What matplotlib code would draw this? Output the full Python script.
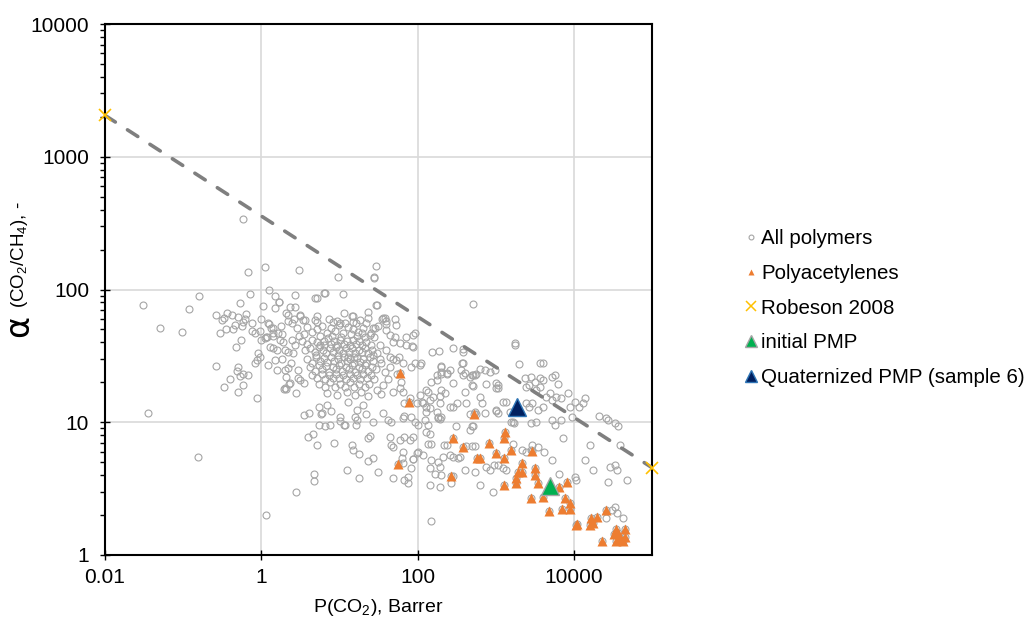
import matplotlib
matplotlib.use('Agg')
import matplotlib.pyplot as plt
from matplotlib.lines import Line2D
from matplotlib.ticker import FixedLocator, NullLocator, LogLocator, NullFormatter

plt.rcParams['font.family'] = ['Liberation Sans', 'DejaVu Sans']
plt.rcParams['mathtext.fontset'] = 'custom'
plt.rcParams['mathtext.rm'] = 'Liberation Sans'
plt.rcParams['mathtext.it'] = 'Liberation Sans:italic'

# ---------------- data (P(CO2) in Barrer, alpha(CO2/CH4)) ----------------
grey_left = [
    (0.031, 76), (0.05, 51), (0.035, 11.8), (0.096, 48), (0.12, 71), (0.16, 89), (0.156, 5.5), (0.26, 64), (0.58, 339), (0.67, 135),
    (1.1, 149), (3.05, 140), (0.72, 93), (0.54, 79), (1.04, 75), (1.26, 99), (1.52, 90), (2.67, 91), (1.68, 80), (1.5, 73),
    (2.7, 74), (2.3, 74), (0.36, 66), (0.42, 64), (0.50, 62), (0.63, 65), (0.31, 59), (0.33, 61), (0.46, 54), (0.58, 57),
    (0.61, 60), (0.77, 56), (0.98, 60), (0.30, 47), (0.35, 50), (0.43, 50), (0.56, 53), (0.84, 47), (0.75, 49), (0.97, 49),
    (0.55, 42), (0.47, 37), (1.0, 42), (1.15, 44), (1.41, 51), (1.24, 55), (1.82, 46), (1.42, 45), (1.29, 37), (0.91, 33),
    (0.87, 29.5), (0.26, 26.6), (0.51, 26), (0.49, 24.5), (0.58, 23), (0.68, 22.7), (0.40, 21), (0.53, 22.4), (0.58, 19), (0.33, 18.5),
    (0.51, 17), (0.87, 15.2), (0.83, 27.9), (1.22, 27), (2.8, 3.0), (1.15, 2.0), (1.57, 24.8), (1.95, 17.7), (2.1, 17.7), (2.25, 19.5),
    (2.8, 16.6), (2.96, 21.5), (1.67, 80), (2.07, 67), (2.2, 64), (3.1, 64), (3.4, 59), (2.2, 58), (2.5, 56), (2.6, 60),
    (0.96, 31), (1.17, 44), (1.11, 43), (1.35, 51), (1.42, 47), (1.23, 56), (1.65, 47), (1.73, 41.6), (1.9, 40), (1.42, 36),
    (1.57, 35), (2.0, 35), (2.2, 34), (2.56, 33), (1.49, 29.5), (2.0, 24.7), (2.2, 25.5), (2.1, 22), (2.96, 24.7), (3.1, 20.8),
    (3.5, 19.6), (2.3, 19.6), (2.0, 18), (1.85, 30), (2.4, 28), (2.7, 38), (3.0, 45), (2.45, 42), (1.8, 53), (2.9, 51),
]

grey_core = [
    (4.8, 86), (5.1, 87), (6.3, 94), (6.6, 94), (11, 93), (27.5, 124), (9.7, 124), (29.6, 150), (27.3, 123), (11.6, 66),
    (15, 63), (23.5, 68), (29, 76), (23, 61), (22, 56), (7.4, 60), (8.2, 57), (9.2, 58), (10.1, 56), (11.7, 56),
    (15, 57), (16.5, 56), (18.3, 59), (15, 50), (17.4, 48), (20, 51), (27, 51), (31, 53), (4.8, 59), (5.1, 63),
    (5.1, 57), (30, 76), (14.3, 63), (3.1, 63), (3.6, 59), (34.6, 60), (38, 61), (40, 55), (52, 60), (53, 54),
    (28.4, 51), (40, 49.5), (92, 46.8), (88, 45.5), (72, 44), (52, 44), (44, 45.5), (24.5, 45.5), (88, 37), (84, 37.3),
    (72, 38), (59, 39.3), (48, 40), (44, 31), (53, 29.5), (65, 27.8), (27, 32), (33, 30), (36, 61), (40, 58),
    (3.9, 52), (4.4, 48), (5.2, 50), (6.0, 53), (6.9, 47), (7.7, 51), (8.8, 49), (9.9, 54), (11.2, 47), (12.8, 52),
    (13.9, 46), (5.6, 45), (8.1, 45), (10.5, 44), (3.5, 46), (17, 45), (19.5, 47), (21.5, 44), (25.5, 47), (28, 44),
    (3.3, 41), (3.9, 39), (4.5, 42), (5.1, 40), (5.7, 38), (6.4, 41), (7.1, 43), (7.8, 39), (8.6, 41), (9.4, 38),
    (10.3, 42), (11.3, 39), (12.4, 41), (13.6, 38), (14.9, 42), (16.3, 39), (17.8, 41), (19.5, 38), (22, 40), (25, 38),
    (3.6, 35), (4.2, 36), (4.8, 34), (5.4, 37), (6.1, 35), (6.8, 33), (7.5, 36), (8.3, 34), (9.1, 37), (10, 35),
    (11, 33), (12.1, 36), (13.3, 34), (14.6, 36), (16, 33), (17.6, 35), (19.3, 34), (21.2, 36), (23.5, 33), (26, 35),
    (6.4, 38), (9.7, 32), (5.0, 32), (12.8, 31), (15.5, 31),
    (3.9, 30), (4.4, 28), (5.0, 31), (5.6, 29), (6.3, 30.5), (7.0, 28.5), (7.8, 31), (8.6, 29), (9.5, 30), (10.4, 28),
    (11.5, 31), (12.6, 29), (13.8, 30), (15.2, 28), (16.7, 30.5), (18.3, 28.5), (20, 30), (22, 28), (24.5, 31), (27, 29),
    (4.2, 26), (4.8, 24.5), (5.4, 27), (6.0, 25), (6.7, 26.5), (7.4, 24), (8.2, 26), (9.0, 25), (9.9, 27), (10.9, 24.5),
    (12, 26), (13.2, 25), (14.5, 27), (16, 24), (17.6, 26), (19.3, 25), (21.5, 27), (23.5, 24.5), (26, 26), (29, 25),
    (4.5, 22.5), (5.2, 21.5), (5.9, 23), (6.6, 21), (7.4, 22.5), (8.2, 21.5), (9.1, 23), (10, 21.5), (11.1, 22.5), (12.3, 21),
    (13.6, 23), (15, 21.5), (16.6, 22.5), (18.3, 21), (20.2, 23), (22.5, 21.5), (25, 22.5), (28, 21),
    (5.5, 19.5), (6.5, 18.5), (7.6, 20), (8.8, 18.5), (10.2, 19.5), (11.8, 18.5), (13.5, 20), (15.5, 18.5), (18, 19.5), (21, 18.5), (24, 19.5),
    (7, 16.5), (9.3, 16), (12.5, 17), (16, 16), (19, 16.8), (23, 15.8), (30, 17.5), (34, 16.2),
    (30, 33), (34, 28), (38, 24), (42, 21), (36, 19), (45, 26), (48, 30), (33, 38), (40, 35), (55, 23), (62, 20), (58, 31),
]

grey_lower = [
    (4.0, 7.7), (4.6, 8.1), (5.1, 6.7), (8.6, 7.0), (14.5, 6.7), (15, 6.2), (17.9, 5.8), (23.5, 5.1), (27, 5.4), (31, 4.2),
    (12.4, 4.4), (17.9, 3.8), (4.75, 4.05), (4.66, 3.6), (3.5, 11.4), (4.1, 11.8), (5.5, 13.1), (5.8, 11.5), (5.4, 9.5), (6.45, 9.4),
    (7.5, 9.6), (7.9, 12.2), (10.3, 11), (10.1, 10.2), (11.5, 9.6), (15.9, 11), (16.8, 12.4), (16.8, 10.4), (16.2, 9.5), (21.6, 11.5),
    (24.5, 7.9), (23, 7.6), (5.9, 11.7), (11.7, 9.5), (27, 10.1), (49, 6.55), (64, 5.4), (83, 4.5), (88, 5.3), (97, 5.9),
    (117, 5.7), (150, 1.81), (75, 3.47), (7.0, 13.5), (13, 14.2), (20, 13.5),
]

grey_right = [
    (513, 78), (1750, 39.8), (1780, 38), (4030, 28.1), (2000, 27.4), (380, 35.5), (154, 34), (188, 34.3), (284, 36.4), (380, 33.6),
    (380, 27.8), (200, 26.5), (625, 25), (112, 27.8), (198, 26.2), (258, 24.7), (197, 22.9), (238, 23), (363, 24.7), (403, 23.6),
    (467, 22), (490, 19), (513, 18.7), (840, 24), (970, 24.7), (1070, 19), (1010, 18), (175, 20.8), (150, 20.2), (130, 17.5),
    (158, 15.6), (192, 15.8), (202, 17.5), (107, 16), (113, 14.3), (98, 13.9), (79, 15.1), (68, 14), (65, 17), (48, 17),
    (59, 18), (83, 26), (92, 27.8), (107, 27), (258, 13.1), (315, 13.9), (467, 11.6), (550, 11.9), (1000, 12.2), (1070, 11.7),
    (1520, 12), (1580, 10.1), (2850, 9.8), (3300, 10.1), (130, 13.1), (143, 12.7), (183, 11), (193, 10.5), (123, 10.4), (136, 9.5),
    (83, 11), (68, 11.1), (65, 10.7), (92, 10), (101, 9.5), (42, 10.4), (46, 10.1), (36, 11.7), (760, 19.5), (720, 11.7),
    (310, 9.3), (130, 8.5), (143, 8.2), (150, 6.9), (136, 6.8), (220, 6.7), (235, 6.7), (420, 6.6), (490, 6.65), (550, 6.65),
    (88, 7.8), (79, 7.3), (101, 6.0), (65, 6.0), (88, 5.3), (65, 4.9), (44, 7.8), (46, 6.7), (59, 7.3), (68, 7.8),
    (48, 3.8), (68, 3.7), (75, 3.9), (150, 5.2), (183, 5.0), (212, 5.5), (258, 5.65), (284, 5.5), (330, 5.4), (143, 4.5),
    (193, 4.6), (166, 4.1), (202, 4.0), (143, 3.37), (193, 3.27), (270, 3.5), (280, 3.95), (350, 5.5), (403, 4.4), (540, 4.2),
    (625, 3.37), (840, 4.4), (940, 4.8), (760, 4.6), (1070, 4.8), (1240, 4.5), (920, 3.0), (1370, 4.4), (1650, 6.9), (2150, 6.2),
    (2450, 6.0), (2950, 6.7), (2850, 6.2), (3450, 6.55), (4100, 6.0), (5200, 5.2), (6500, 4.07), (10300, 3.9), (10700, 3.67), (13700, 5.2),
    (16000, 6.75), (17500, 4.36), (27500, 3.57), (29000, 4.6), (34000, 4.75), (35500, 4.36), (48000, 3.67), (21000, 11.1), (26000, 10.7), (27500, 10.4),
    (34000, 9.8), (36500, 9.3), (13700, 15.1), (13000, 13.9), (10300, 14.3), (11800, 13.1), (8800, 13.1), (9600, 11), (4400, 15.6), (4900, 16.5),
    (5300, 14.7), (5950, 15.6), (6900, 15.1), (8350, 16.5), (3300, 17.5), (3650, 18.5), (4050, 20.8), (5200, 22), (5700, 22.7), (6250, 19.4),
    (2950, 13.9), (3450, 12.3), (4050, 13.1), (5200, 10.4), (5700, 9.5), (6900, 10.4), (7200, 7.55), (2450, 18.5), (2700, 19), (3150, 20),
    (2350, 21.5), (2850, 22), (3650, 21.5), (3700, 28), (2450, 13.9), (2700, 13.1), (1650, 10.1), (1700, 9.8), (625, 15.6), (670, 13.9),
    (720, 24.7), (513, 22.7), (560, 23), (1010, 19.6), (1070, 18), (1240, 14.3), (1370, 14.3), (1010, 12.3), (513, 9.3), (467, 8.7),
    (38500, 6.7), (34000, 2.31), (31000, 2.18), (35500, 2.06), (43000, 1.89), (26000, 1.89), (175, 22.7), (200, 24), (235, 23.5), (365, 27.8),
    (380, 22.7), (490, 22.7), (540, 22.7), (285, 19.6), (400, 17), (222, 16.5), (192, 13.9), (175, 12), (130, 12), (136, 17),
    (117, 13.9), (143, 14.7), (183, 10.7), (200, 11), (284, 13.1), (420, 13.9), (500, 9.3), (560, 11.6),
]

polyacetylenes = [
    (60, 23.4), (77, 14.2), (520, 11.5), (282, 7.65), (380, 6.5), (570, 5.35), (625, 5.4), (57, 4.85), (265, 3.94), (820, 7.0),
    (1000, 5.9), (1320, 8.5), (1260, 7.65), (1260, 5.4), (1560, 6.2), (2930, 6.07), (2140, 4.9), (1930, 4.24), (2190, 4.24), (1830, 3.78),
    (1830, 3.47), (1260, 3.37), (3200, 4.54), (3150, 4.0), (3450, 3.47), (4050, 2.75), (2850, 2.67), (4750, 2.15), (6400, 3.23), (7000, 2.21),
    (8900, 2.21), (7700, 2.67), (8800, 2.45), (8200, 3.57), (10700, 1.68), (11000, 1.72), (16500, 1.89), (17500, 1.73), (16000, 1.68), (20000, 1.92),
    (25500, 2.18), (23000, 1.27), (34500, 1.56), (33000, 1.43), (36500, 1.46), (35000, 1.28), (39500, 1.34), (45500, 1.56), (45500, 1.37), (43000, 1.27),
]

robeson_P = [0.01, 100000]
robeson_a = [2050, 4.55]

initial_P = [4900]
initial_a = [3.3]

quat_P = [1900]
quat_a = [13.0]

x_ticks = [0.01, 1, 100, 10000]
x_tick_labels = ['0.01', '1', '100', '10000']
y_ticks = [1, 10, 100, 1000, 10000]
y_tick_labels = ['1', '10', '100', '1000', '10000']

legend_labels = ['All polymers', 'Polyacetylenes', 'Robeson 2008', 'initial PMP',
                 'Quaternized PMP (sample 6)']

# ---------------- plot ----------------
grey_all = grey_left + grey_core + grey_lower + grey_right + polyacetylenes
gP = [p for p, a in grey_all]
gA = [a for p, a in grey_all]
oP = [p for p, a in polyacetylenes]
oA = [a for p, a in polyacetylenes]

fig = plt.figure(figsize=(10.30, 6.19), dpi=100)
ax = fig.add_axes([105 / 1030, 1 - 555 / 619, 547 / 1030, 531 / 619])
ax.set_xscale('log')
ax.set_yscale('log')
ax.set_xlim(0.01, 100000)
ax.set_ylim(1, 10000)

ax.plot(gP, gA, ls='none', marker='o', ms=5, mfc='none', mec='#A5A5A5', mew=0.8, zorder=3)
ax.plot(oP, oA, ls='none', marker='^', ms=7, color='#ED7D31', mec='none', zorder=4)
ax.plot(robeson_P, robeson_a, color='#7F7F7F', lw=2.6, dashes=(3.4, 4.0),
        dash_capstyle='round', zorder=5)
ax.plot(robeson_P, robeson_a, ls='none', marker='x', ms=8, mec='#FFC000', mew=1.2,
        clip_on=False, zorder=6)
ax.plot(initial_P, initial_a, ls='none', marker='^', ms=12.5, mfc='#00B050', mec='#A5A5A5',
        mew=1, zorder=7)
ax.plot(quat_P, quat_a, ls='none', marker='^', ms=13.5, mfc='#002060', mec='#2E75B6',
        mew=1, zorder=7)

ax.xaxis.set_major_locator(FixedLocator(x_ticks))
ax.set_xticklabels(x_tick_labels)
ax.xaxis.set_minor_locator(NullLocator())
ax.yaxis.set_major_locator(FixedLocator(y_ticks))
ax.set_yticklabels(y_tick_labels)
ax.yaxis.set_minor_locator(LogLocator(base=10, subs=range(2, 10), numticks=20))
ax.yaxis.set_minor_formatter(NullFormatter())

ax.grid(True, which='major', color='#D9D9D9', lw=1.2, zorder=0)
ax.set_axisbelow(True)
ax.tick_params(axis='both', which='major', direction='inout', length=7, width=1.0,
               labelsize=15, pad=6)
ax.tick_params(axis='y', which='major', pad=8)
ax.tick_params(axis='y', which='minor', direction='out', length=3.6, width=1.0)
for s in ax.spines.values():
    s.set_linewidth(1.5)
    s.set_color('black')

ax.set_xlabel('P(CO$_2$), Barrer', fontsize=14)
ax.xaxis.set_label_coords(0.5, -0.08)
ax.xaxis.label.set_va('top')

# y label: enlarged alpha followed by the rest of the label
fig.text(19 / 1030, 1 - 337 / 619, 'α', fontsize=24, rotation=90,
         ha='center', va='bottom', family=['DejaVu Sans'])
fig.text(20 / 1030, 1 - 308 / 619, '(CO$_2$/CH$_4$), -', fontsize=13.5, rotation=90,
         ha='center', va='bottom')

handles = [
    Line2D([], [], ls='none', marker='o', ms=3.5, mfc='none', mec='#A5A5A5', mew=0.8),
    Line2D([], [], ls='none', marker='^', ms=5, color='#ED7D31', mec='none'),
    Line2D([], [], ls='none', marker='x', ms=6.5, mec='#FFC000', mew=1.1),
    Line2D([], [], ls='none', marker='^', ms=8.5, mfc='#00B050', mec='#A5A5A5', mew=1),
    Line2D([], [], ls='none', marker='^', ms=8.5, mfc='#002060', mec='#2E75B6', mew=1),
]
fig.legend(handles, legend_labels, loc='upper left', bbox_to_anchor=(744 / 1030, 1 - 229 / 619),
           bbox_transform=fig.transFigure, frameon=False, fontsize=14.8, handlelength=0.65,
           handletextpad=0.2, labelspacing=0.77, borderpad=0, borderaxespad=0)

fig.savefig('out.png', dpi=100)
